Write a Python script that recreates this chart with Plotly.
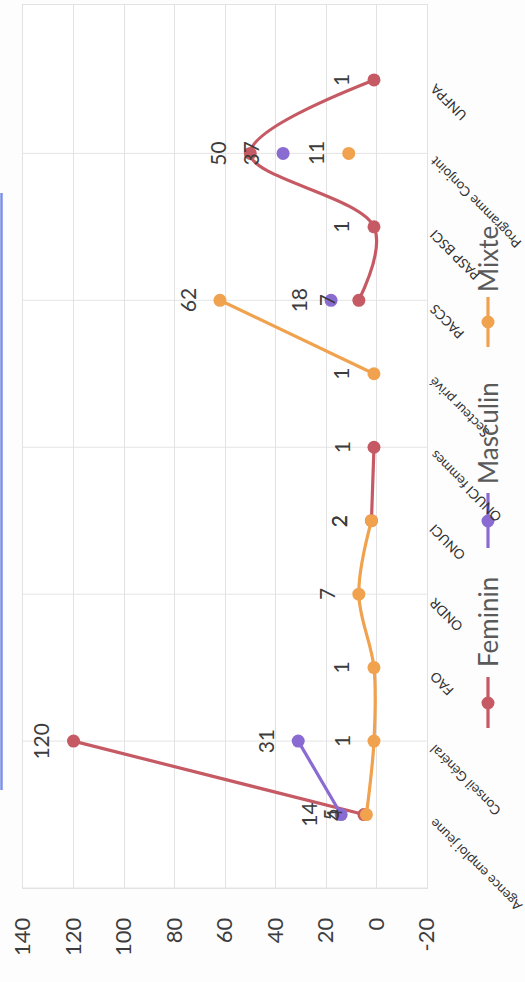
import plotly.graph_objects as go

# Partner categories, listed from the bottom of the chart to the top
categories = [
    "Agence emploi jeune", "Conseil Général", "FAO", "ONDR", "ONUCI",
    "ONUCI femmes", "Secteur privé", "PACCS", "PASP BSCI",
    "Programme Conjoint", "UNFPA",
]

# Counts per series (None = no value for that partner)
feminin = [5, 120, None, None, 2, 1, None, 7, 1, 50, 1]
masculin = [14, 31, None, None, None, None, None, 18, None, 37, None]
mixte = [4, 1, 1, 7, 2, None, 1, 62, None, 11, None]

series_names = ["Feminin", "Masculin", "Mixte"]
series_values = [feminin, masculin, mixte]
series_colors = ["#c65a64", "#8a6bd2", "#f0a24e"]

value_ticks = [140, 120, 100, 80, 60, 40, 20, 0, -20]

W, H = 525, 982
M_L, M_R, M_T, M_B = 23, 98, 5, 94
PW, PH = W - M_L - M_R, H - M_T - M_B


def px_x(px):
    return (px - M_L) / PW


def px_y(py):
    return (H - M_B - py) / PH


fig = go.Figure()

for name, vals, col in zip(series_names, series_values, series_colors):
    fig.add_trace(go.Scatter(
        x=vals, y=categories, name=name, mode="lines+markers",
        line=dict(color=col, width=3.2, shape="spline", smoothing=1),
        marker=dict(color=col, size=13),
        connectgaps=False, showlegend=False,
    ))

annotations = []
# value labels, written beside each point in the same rotation as the axis text
for vals in series_values:
    for cat, v in zip(categories, vals):
        if v is None:
            continue
        annotations.append(dict(
            x=v, y=cat, xref="x", yref="y", text=str(v), showarrow=False,
            textangle=-90, xshift=-33, xanchor="center", yanchor="middle",
            font=dict(family="Lato", size=21, color="#3c3c3c"),
        ))

# category names, slanted and hanging off the right edge of the plot
for cat in categories:
    annotations.append(dict(
        x=1, y=cat, xref="paper", yref="y", text=cat, showarrow=False,
        textangle=-135, xanchor="left", yanchor="top", xshift=-2, yshift=1,
        borderpad=0,
        font=dict(family="Lato", size=13.5, color="#333333"),
    ))

# hand-built legend: rotated names with a line-and-dot key
legend_items = [
    ("Feminin", series_colors[0], 622, 703, 677, 728),
    ("Masculin", series_colors[1], 433, 521, 493, 548),
    ("Mixte", series_colors[2], 259, 322, 297, 347),
]
shapes = []
for name, col, ty, dy, l0, l1 in legend_items:
    annotations.append(dict(
        x=px_x(488), y=px_y(ty), xref="paper", yref="paper", text=name,
        showarrow=False, textangle=-90, xanchor="center", yanchor="middle",
        xshift=0,
        font=dict(family="Lato", size=26, color="#5a5a5a"),
    ))
    shapes.append(dict(
        type="line", xref="paper", yref="paper",
        x0=px_x(488), x1=px_x(488), y0=px_y(l0), y1=px_y(l1),
        line=dict(color=col, width=3.2),
    ))
    shapes.append(dict(
        type="circle", xref="paper", yref="paper",
        xsizemode="pixel", ysizemode="pixel",
        xanchor=px_x(488), yanchor=px_y(dy),
        x0=-6.5, x1=6.5, y0=-6.5, y1=6.5,
        fillcolor=col, line=dict(color=col, width=0),
    ))

# faint category gridlines on every second row
for k in [-1, 1, 3, 5, 7, 9]:
    shapes.append(dict(
        type="line", xref="paper", yref="y", x0=0, x1=1, y0=k, y1=k,
        line=dict(color="#e4e4e4", width=1), layer="below",
    ))

# thin blue rule at the left margin
shapes.append(dict(
    type="line", xref="paper", yref="paper",
    x0=px_x(1.5), x1=px_x(1.5), y0=px_y(193), y1=px_y(790),
    line=dict(color="#7c90e6", width=2.5),
))

fig.update_layout(
    width=W, height=H,
    margin=dict(l=M_L, r=M_R, t=M_T, b=M_B),
    paper_bgcolor="#fdfdfd", plot_bgcolor="#ffffff",
    annotations=annotations, shapes=shapes,
    showlegend=False,
    xaxis=dict(
        range=[140, -20], tickmode="array", tickvals=value_ticks,
        ticktext=[str(t) for t in value_ticks], tickangle=-90,
        showgrid=True, gridcolor="#e2e2e2", gridwidth=1,
        zeroline=False, showline=True, linecolor="#e2e2e2", mirror=True,
        ticks="", ticklabelstandoff=20,
        tickfont=dict(family="Lato", size=22, color="#3c3c3c"),
    ),
    yaxis=dict(
        type="category", categoryorder="array", categoryarray=categories,
        range=[-1, 11.02], showticklabels=False,
        showgrid=False, zeroline=False, showline=True, linecolor="#e2e2e2",
        mirror=True, ticks="",
    ),
)

fig.write_html("out.html")
